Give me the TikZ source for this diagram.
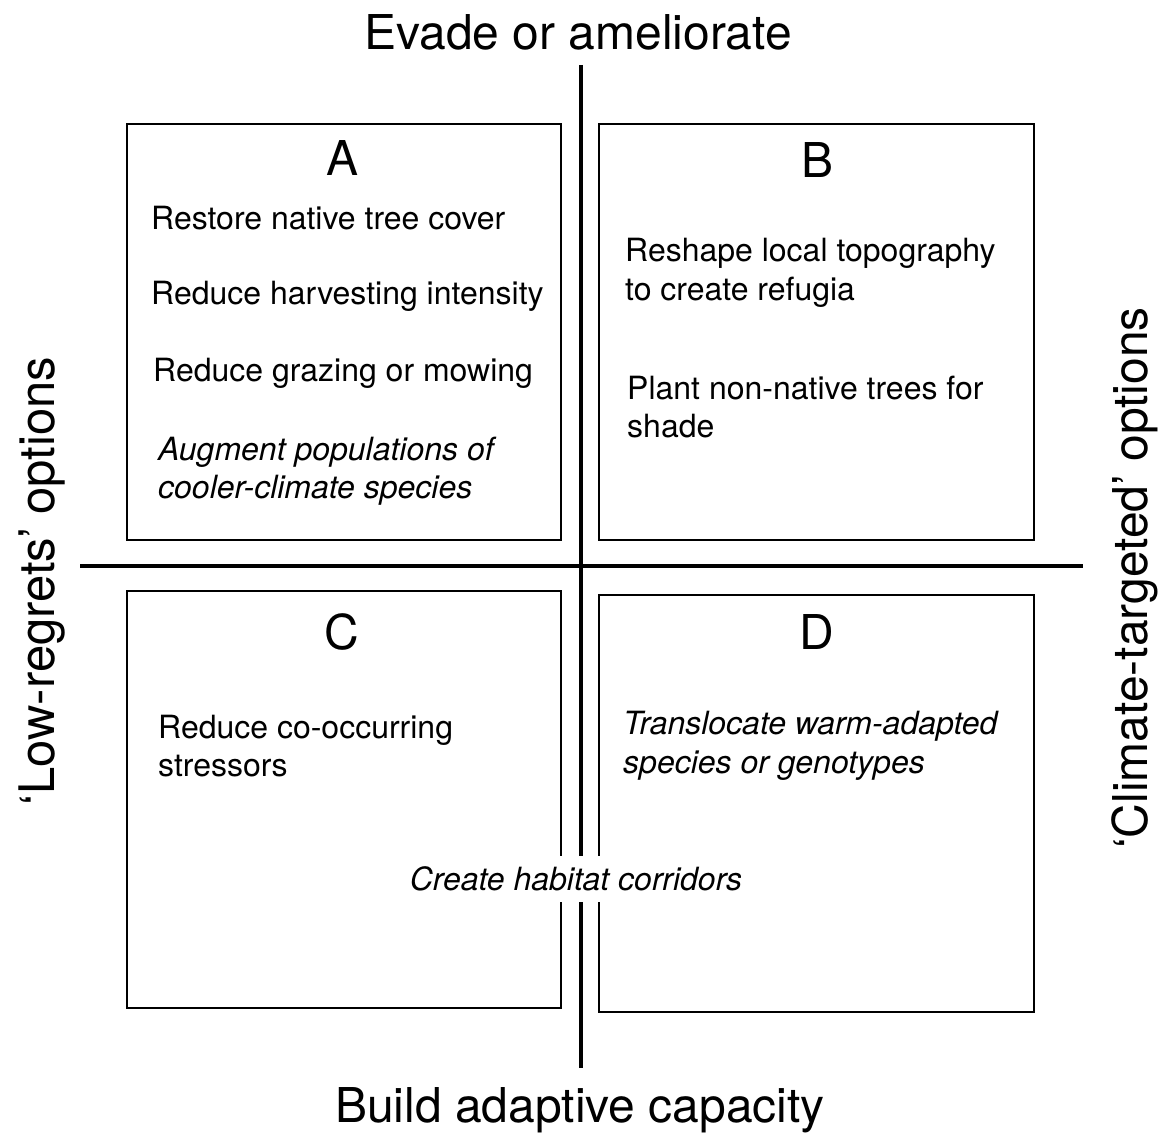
\documentclass[tikz,border=0pt]{standalone}
\usepackage{fontspec}
\setmainfont{TeX Gyre Heros}
\begin{document}
\begin{tikzpicture}[x=1pt,y=-1pt,
  big/.style={inner sep=0pt,font=\fontsize{48}{56}\selectfont},
  body/.style={inner sep=0pt,anchor=west,align=left,font=\fontsize{32}{38.5}\selectfont},
  ibody/.style={body,font=\fontsize{32}{38.5}\selectfont\itshape},
  quad/.style={draw,line width=1.8pt,inner sep=0pt},
  axis/.style={line width=4.6pt}]
\useasboundingbox (0,0) rectangle (1169,1140);
\fill[white] (0,0) rectangle (1169,1140);
% axes
\coordinate (vtop) at (581,65);
\coordinate (vbot) at (581,1068);
\coordinate (hleft) at (80,566);
\coordinate (hright) at (1083,566);
\draw[axis] (vtop) -- (vbot);
\draw[axis] (hleft) -- (hright);
% boxes
\node[quad,minimum width=434pt,minimum height=416pt] (boxA) at (344,332) {};
\node[quad,minimum width=435pt,minimum height=416pt] (boxB) at (816.5,332) {};
\node[quad,minimum width=434pt,minimum height=417pt] (boxC) at (344,799.5) {};
\node[quad,minimum width=435pt,minimum height=417pt] (boxD) at (816.5,803.5) {};
% axis labels
\node[big] (top) at (578,32) {Evade or ameliorate};
\node[big] (bottom) at (580,1110) {Build adaptive capacity};
\node[big,font=\fontsize{49}{56}\selectfont,rotate=90] (left) at (42,581) {‘Low-regrets’ options};
\node[big,rotate=90] (right) at (1135,578) {‘Climate-targeted’ options};
% letters
\node[big] (lA) at (343,158) {A};
\node[big] (lB) at (817,160) {B};
\node[big] (lC) at (342,632) {C};
\node[big] (lD) at (817,632) {D};
% texts
\node[body] (a1) at (151,218) {Restore native tree cover};
\node[body] (a2) at (151,296) {Reduce harvesting intensity};
\node[body] (a3) at (153,373) {Reduce grazing or mowing};
\node[ibody] (a4) at (158,471) {Augment populations of\\cooler-climate species};
\node[body] (b1) at (625,273) {Reshape local topography\\to create refugia};
\node[body] (b2) at (627,407) {Plant non-native trees for\\shade};
\node[body] (c1) at (158,746) {Reduce co-occurring\\stressors};
\node[ibody] (d1) at (623,746) {Translocate warm-adapted\\species or genotypes};
\node[ibody,anchor=center,fill=white,inner xsep=2pt,inner ysep=11pt] (corr) at (576,879) {Create habitat corridors};
\end{tikzpicture}
\end{document}
